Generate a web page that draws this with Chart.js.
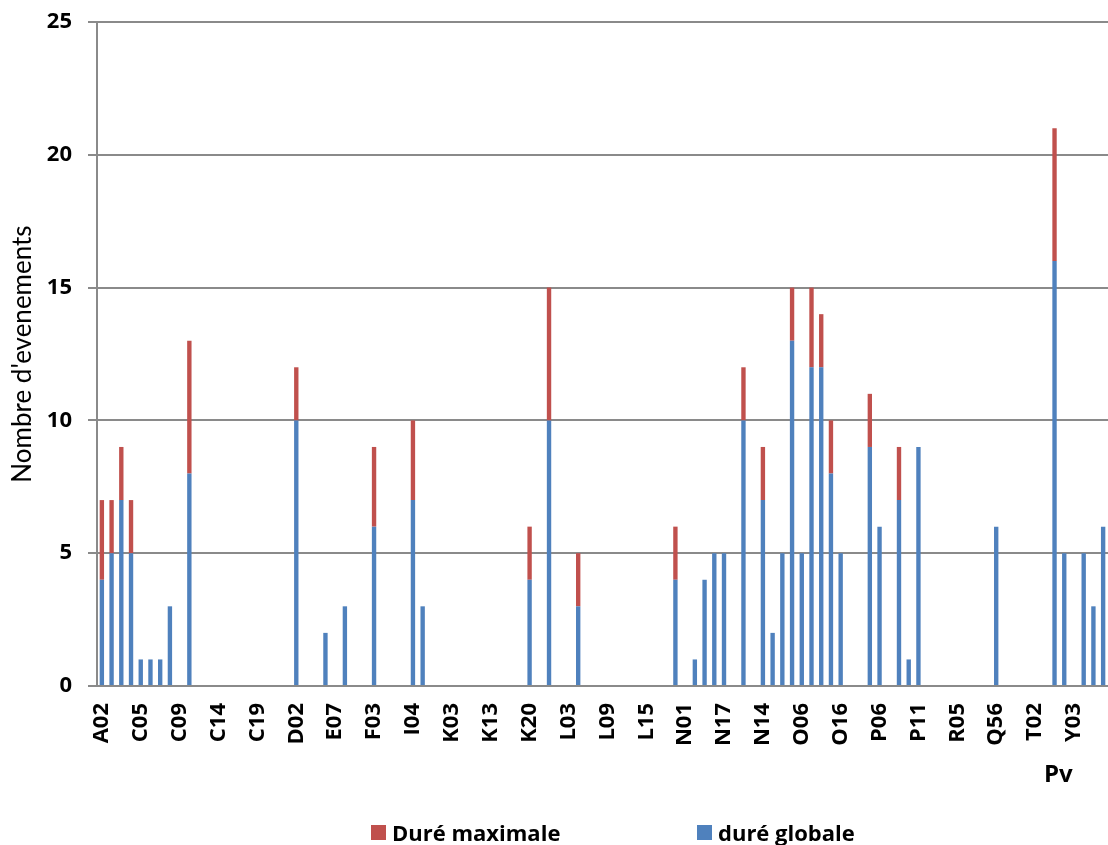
<!DOCTYPE html>
<html>
<head>
<meta charset="utf-8">
<script src="https://cdn.jsdelivr.net/npm/chart.js@4.4.0/dist/chart.umd.min.js"></script>
<style>
  html, body { margin: 0; padding: 0; background: #fff; }
  #wrap { width: 1108px; height: 845px; }
</style>
</head>
<body>
<div id="wrap"><canvas id="myChart" width="1108" height="845"></canvas></div>
<script>
// etiquettes visibles (une categorie sur quatre)
const tickLabels = ["A02", "C05", "C09", "C14", "C19", "D02", "E07", "F03", "I04", "K03", "K13", "K20", "L03",
                    "L09", "L15", "N01", "N17", "N14", "O06", "O16", "P06", "P11", "R05", "Q56", "T02", "Y03"];

// duré globale (bas de la pile)
const dureeGlobale = [
  4, 5, 7, 5, 1, 1, 1, 3, 0, 8,
  0, 0, 0, 0, 0, 0, 0, 0, 0, 0,
  10, 0, 0, 2, 0, 3, 0, 0, 6, 0,
  0, 0, 7, 3, 0, 0, 0, 0, 0, 0,
  0, 0, 0, 0, 4, 0, 10, 0, 0, 3,
  0, 0, 0, 0, 0, 0, 0, 0, 0, 4,
  0, 1, 4, 5, 5, 0, 10, 0, 7, 2,
  5, 13, 5, 12, 12, 8, 5, 0, 0, 9,
  6, 0, 7, 1, 9, 0, 0, 0, 0, 0,
  0, 0, 6, 0, 0, 0, 0, 0, 16, 5,
  0, 5, 3, 6
];

// duré maximale (haut de la pile)
const dureeMaximale = [
  3, 2, 2, 2, 0, 0, 0, 0, 0, 5,
  0, 0, 0, 0, 0, 0, 0, 0, 0, 0,
  2, 0, 0, 0, 0, 0, 0, 0, 3, 0,
  0, 0, 3, 0, 0, 0, 0, 0, 0, 0,
  0, 0, 0, 0, 2, 0, 5, 0, 0, 2,
  0, 0, 0, 0, 0, 0, 0, 0, 0, 2,
  0, 0, 0, 0, 0, 0, 2, 0, 2, 0,
  0, 2, 0, 3, 2, 2, 0, 0, 0, 2,
  0, 0, 2, 0, 0, 0, 0, 0, 0, 0,
  0, 0, 0, 0, 0, 0, 0, 0, 5, 0,
  0, 0, 0, 0
];

const yTicks = [0, 5, 10, 15, 20, 25];

// categories : seule une sur quatre porte un nom lisible
const labels = dureeGlobale.map((v, i) => (i % 4 === 0 ? tickLabels[i / 4] : ""));

const extraText = {
  id: 'extraText',
  afterDraw(chart) {
    const ctx = chart.ctx;
    const area = chart.chartArea;
    ctx.save();
    ctx.fillStyle = '#000';
    ctx.textBaseline = 'alphabetic';
    ctx.textAlign = 'left';
    ctx.font = 'bold 24px "Open Sans"';
    ctx.fillText('Pv', area.right - 64, area.bottom + 96);

    // legende
    ctx.font = 'bold 22px "Open Sans"';
    const items = [chart.data.datasets[1], chart.data.datasets[0]];
    const xs = [371, 697];
    items.forEach((ds, i) => {
      ctx.fillStyle = ds.backgroundColor;
      ctx.fillRect(xs[i], 825, 15, 15);
      ctx.fillStyle = '#000';
      ctx.fillText(ds.label, xs[i] + 21, 841);
    });
    ctx.restore();
  }
};

const data = {
  labels: labels,
  datasets: [{
    label: 'duré globale',
    backgroundColor: '#4F81BD',
    data: dureeGlobale,
    stack: 'a',
    barPercentage: 0.45,
    categoryPercentage: 1
  }, {
    label: 'Duré maximale',
    backgroundColor: '#C0504D',
    data: dureeMaximale,
    stack: 'a',
    barPercentage: 0.45,
    categoryPercentage: 1
  }]
};

const config = {
  type: 'bar',
  data: data,
  plugins: [extraText],
  options: {
    responsive: false,
    animation: false,
    layout: { padding: { top: 22, left: 0, right: 0, bottom: 0 } },
    plugins: {
      legend: { display: false },
      tooltip: { enabled: false }
    },
    scales: {
      x: {
        stacked: true,
        grid: { display: false, drawTicks: false },
        border: { display: true, color: '#8a8a8a', width: 2 },
        ticks: {
          autoSkip: false,
          minRotation: 90,
          maxRotation: 90,
          padding: 17,
          color: '#000',
          font: { family: 'Open Sans', size: 22, weight: 'bold' }
        },
        afterFit(scale) {
          scale.height = 159;
          scale.paddingLeft = 0;
          scale.paddingRight = 0;
        }
      },
      y: {
        stacked: true,
        min: 0,
        max: 25,
        afterBuildTicks(scale) {
          scale.ticks = yTicks.map(v => ({ value: v }));
        },
        grid: { color: '#8a8a8a', lineWidth: 2, tickLength: 9 },
        border: { display: true, color: '#8a8a8a', width: 2 },
        ticks: {
          padding: 16,
          color: '#000',
          font: { family: 'Open Sans', size: 22, weight: 'bold' }
        },
        title: {
          display: true,
          text: "Nombre d'evenements",
          color: '#000',
          padding: { top: 7, bottom: 0 },
          font: { family: 'Lato', size: 26 }
        },
        afterFit(scale) {
          scale.width = 97;
          scale.paddingTop = 0;
          scale.paddingBottom = 0;
        }
      }
    }
  }
};

const myChart = new Chart(document.getElementById('myChart'), config);
</script>
</body>
</html>
